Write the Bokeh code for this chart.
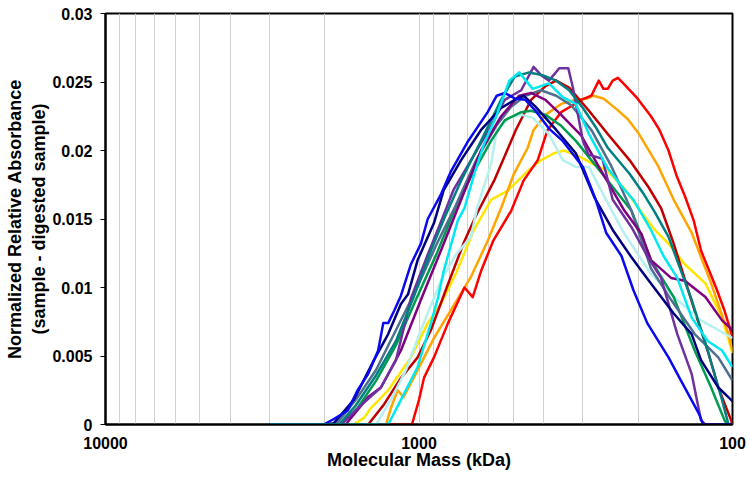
from bokeh.plotting import figure
from bokeh.models import Range1d, FixedTicker, CustomJSTickFormatter
from bokeh.embed import file_html
from bokeh.resources import INLINE

# ---------------- data (mass in kDa, normalized absorbance) ----------------
red_mass = [3000, 1053, 1000, 964, 896, 808, 716, 674, 634, 580, 508, 464, 418, 389, 352, 323, 304, 282,
            267, 258, 250, 241, 232, 221, 201, 182, 171, 160, 151, 142, 133, 126, 120, 112, 106, 100]
red_abs = [0, 0, 0.0018, 0.0034, 0.0049, 0.0074, 0.0100, 0.0093, 0.0112, 0.0134, 0.0156, 0.0178, 0.0193,
           0.0215, 0.0228, 0.0233, 0.0237, 0.0240, 0.0251, 0.0245, 0.0245, 0.0251, 0.0253, 0.0248, 0.0238,
           0.0225, 0.0215, 0.0200, 0.0182, 0.0167, 0.0149, 0.0127, 0.0115, 0.0098, 0.0083, 0.0064]

orange_mass = [3000, 1274, 1229, 1170, 1120, 1040, 896, 808, 682, 604, 547, 498, 450, 431, 395, 352, 316,
               290, 278, 258, 234, 216, 200, 186, 173, 154, 135, 117, 103, 100]
orange_abs = [0, 0, 0.0012, 0.0025, 0.0020, 0.0034, 0.0063, 0.0080, 0.0108, 0.0134, 0.0158, 0.0183, 0.0202,
              0.0215, 0.0226, 0.0234, 0.0237, 0.0238, 0.0240, 0.0238, 0.0230, 0.0223, 0.0213, 0.0201, 0.0189,
              0.0164, 0.0140, 0.0103, 0.0066, 0.0054]

yellow_mass = [3000, 1614, 1495, 1424, 1254, 1061, 938, 851, 763, 668, 589, 519, 450, 408, 371, 345, 304,
               278, 250, 221, 195, 177, 160, 142, 122, 108, 100]
yellow_abs = [0, 0, 0.0005, 0.0012, 0.0025, 0.0049, 0.0074, 0.0088, 0.0110, 0.0142, 0.0164, 0.0171, 0.0185,
              0.0193, 0.0198, 0.0200, 0.0195, 0.0190, 0.0185, 0.0172, 0.0155, 0.0142, 0.0132, 0.0117, 0.0103,
              0.0078, 0.0052]

darkred_mass = [3000, 1452, 1290, 1142, 1010, 916, 822, 716, 653, 576, 519, 491, 439, 395, 365, 332, 287,
                250, 213, 185, 169, 154, 132, 120, 111, 101, 100]
darkred_abs = [0, 0, 0.0015, 0.0034, 0.0049, 0.0069, 0.0098, 0.0134, 0.0154, 0.0178, 0.0202, 0.0215, 0.0237,
               0.0247, 0.0251, 0.0246, 0.0229, 0.0212, 0.0193, 0.0173, 0.0158, 0.0132, 0.0083, 0.0054, 0.0027,
               0.0003, 0]

blue_mass = [3000, 2012, 1870, 1690, 1570, 1452, 1350, 1300, 1254, 1200, 1142, 1061, 986, 938, 851, 790,
             701, 604, 565, 533, 495, 458, 425, 385, 348, 300, 273, 253, 226, 207, 187, 160, 146, 128, 124, 100]
blue_abs = [0, 0, 0.0004, 0.0010, 0.0025, 0.0037, 0.0054, 0.0074, 0.0074, 0.0083, 0.0094, 0.0117, 0.0132,
            0.0150, 0.0168, 0.0185, 0.0206, 0.0228, 0.0240, 0.0242, 0.0238, 0.0237, 0.0229, 0.0216, 0.0207,
            0.0188, 0.0164, 0.0140, 0.0123, 0.0098, 0.0074, 0.0049, 0.0032, 0.0008, 0, 0]

navy_mass = [3000, 1980, 1869, 1614, 1392, 1254, 1142, 1084, 1010, 896, 834, 734, 634, 547, 495, 464, 425,
             365, 316, 276, 241, 210, 195, 182, 154, 135, 126, 111, 100]
navy_abs = [0, 0, 0.0001, 0.0018, 0.0047, 0.0066, 0.0088, 0.0095, 0.0120, 0.0147, 0.0171, 0.0193, 0.0215,
            0.0231, 0.0237, 0.0240, 0.0232, 0.0215, 0.0198, 0.0166, 0.0142, 0.0122, 0.0112, 0.0103, 0.0081,
            0.0066, 0.0047, 0.0027, 0.0017]

purple_mass = [3000, 1775, 1532, 1323, 1184, 1061, 938, 834, 777, 682, 589, 533, 472, 431, 408, 385, 357,
               334, 323, 310, 300, 288, 260, 241, 210, 186, 169, 150, 135, 126, 122, 100]
purple_abs = [0, 0, 0.0014, 0.0027, 0.0047, 0.0092, 0.0124, 0.0153, 0.0171, 0.0193, 0.0218, 0.0237, 0.0244,
              0.0261, 0.0255, 0.0251, 0.0260, 0.0260, 0.0246, 0.0224, 0.0207, 0.0197, 0.0194, 0.0164, 0.0144,
              0.0122, 0.0107, 0.0066, 0.0037, 0.0003, 0, 0]

plum_mass = [3000, 1715, 1452, 1323, 1142, 986, 851, 734, 634, 547, 479, 439, 395, 352, 304, 262, 221, 195,
             182, 157, 142, 122, 108, 100]
plum_abs = [0, 0, 0.0020, 0.0027, 0.0054, 0.0091, 0.0127, 0.0164, 0.0200, 0.0225, 0.0240, 0.0242, 0.0237,
            0.0226, 0.0211, 0.0185, 0.0156, 0.0139, 0.0120, 0.0107, 0.0105, 0.0093, 0.0076, 0.0069]

teal_mass = [3000, 1800, 1590, 1370, 1184, 1040, 916, 822, 734, 634, 547, 495, 445, 404, 365, 332, 300, 273,
             250, 213, 193, 177, 160, 135, 120, 108, 103, 100]
teal_abs = [0, 0, 0.0014, 0.0036, 0.0061, 0.0093, 0.0127, 0.0153, 0.0178, 0.0207, 0.0237, 0.0254, 0.0257,
            0.0255, 0.0251, 0.0244, 0.0231, 0.0217, 0.0202, 0.0183, 0.0169, 0.0155, 0.0137, 0.0091, 0.0054,
            0.0018, 0, 0]

green_mass = [3000, 1775, 1570, 1370, 1184, 1023, 881, 763, 682, 589, 533, 472, 439, 395, 352, 316, 282, 244,
              210, 182, 154, 132, 117, 106, 104, 100]
green_abs = [0, 0, 0.0012, 0.0032, 0.0058, 0.0091, 0.0124, 0.0159, 0.0181, 0.0207, 0.0222, 0.0228, 0.0229,
             0.0226, 0.0218, 0.0207, 0.0193, 0.0175, 0.0156, 0.0120, 0.0093, 0.0054, 0.0027, 0.0003, 0, 0]

slate_mass = [3000, 1840, 1590, 1370, 1184, 1023, 881, 763, 657, 567, 508, 458, 408, 365, 327, 282, 244, 210,
              182, 157, 132, 111, 100]
slate_abs = [0, 0, 0.0018, 0.0040, 0.0069, 0.0098, 0.0131, 0.0160, 0.0193, 0.0218, 0.0232, 0.0240, 0.0244,
             0.0240, 0.0233, 0.0215, 0.0189, 0.0156, 0.0114, 0.0091, 0.0066, 0.0049, 0.0032]

lightcyan_mass = [3000, 1370, 1229, 1100, 986, 851, 763, 682, 653, 589, 565, 515, 472, 434, 385, 348, 316,
                  287, 253, 221, 182, 150, 126, 111, 100]
lightcyan_abs = [0, 0, 0.0018, 0.0040, 0.0069, 0.0105, 0.0124, 0.0137, 0.0158, 0.0190, 0.0215, 0.0224,
                 0.0226, 0.0224, 0.0212, 0.0193, 0.0188, 0.0188, 0.0164, 0.0139, 0.0110, 0.0091, 0.0076,
                 0.0069, 0.0063]

cyan_mass = [3000, 1254, 1142, 1010, 916, 871, 834, 752, 716, 668, 620, 567, 515, 479, 434, 385, 348, 316,
             287, 250, 224, 207, 182, 166, 150, 135, 120, 108, 100]
cyan_abs = [0, 0, 0.0018, 0.0042, 0.0074, 0.0092, 0.0112, 0.0149, 0.0158, 0.0182, 0.0205, 0.0225, 0.0251,
            0.0257, 0.0245, 0.0249, 0.0239, 0.0234, 0.0212, 0.0187, 0.0173, 0.0164, 0.0142, 0.0123, 0.0107,
            0.0078, 0.0061, 0.0054, 0.0042]

x_major_ticks = [100, 1000, 10000]
x_grid_ticks = [200, 300, 400, 500, 600, 700, 800, 900, 1000,
                2000, 3000, 4000, 5000, 6000, 7000, 8000, 9000]
y_ticks = [0, 0.005, 0.01, 0.015, 0.02, 0.025, 0.03]

series = [
    (yellow_mass, yellow_abs, "#FFE600"),
    (orange_mass, orange_abs, "#FFA500"),
    (red_mass, red_abs, "#FF0000"),
    (darkred_mass, darkred_abs, "#C00000"),
    (lightcyan_mass, lightcyan_abs, "#B4F0F0"),
    (green_mass, green_abs, "#009A50"),
    (slate_mass, slate_abs, "#4F6F8F"),
    (plum_mass, plum_abs, "#800080"),
    (purple_mass, purple_abs, "#7030A0"),
    (teal_mass, teal_abs, "#008080"),
    (navy_mass, navy_abs, "#000080"),
    (blue_mass, blue_abs, "#0A0AF0"),
    (cyan_mass, cyan_abs, "#00E8F0"),
]

FONT = "Liberation Sans"

p = figure(width=750, height=479, x_axis_type="log", output_backend="svg", toolbar_location=None,
           x_range=Range1d(10000, 100), y_range=Range1d(0, 0.03),
           min_border_left=105, min_border_right=18, min_border_top=13, min_border_bottom=55)
p.background_fill_color = "white"
p.border_fill_color = "white"
p.outline_line_color = "black"
p.outline_line_width = 2

for m, a, c in series:
    p.line(m, a, line_color=c, line_width=2.5, line_join="round")

# grid
p.xgrid.ticker = FixedTicker(ticks=x_grid_ticks)
p.xgrid.grid_line_color = "#d0d0d0"
p.xgrid.grid_line_width = 1
p.ygrid.grid_line_color = None

# x axis
xa = p.xaxis[0]
xa.ticker = FixedTicker(ticks=x_major_ticks, minor_ticks=[])
xa.formatter = CustomJSTickFormatter(code="return String(Math.round(tick));")
xa.major_tick_out = 0
xa.major_tick_in = 0
xa.minor_tick_out = 0
xa.minor_tick_in = 0
xa.axis_line_color = "black"
xa.axis_line_width = 2
xa.major_label_text_font = FONT
xa.major_label_text_font_style = "bold"
xa.major_label_text_font_size = "16px"
xa.major_label_text_color = "black"
xa.major_label_standoff = 12
xa.axis_label = "Molecular Mass (kDa)"
xa.axis_label_text_font = FONT
xa.axis_label_text_font_style = "bold"
xa.axis_label_text_font_size = "18px"
xa.axis_label_text_color = "black"
xa.axis_label_standoff = -2

# y axis
ya = p.yaxis[0]
ya.ticker = FixedTicker(ticks=y_ticks, minor_ticks=[])
ya.formatter = CustomJSTickFormatter(code="return tick.toFixed(3).replace(/\\.?0+$/, '');")
ya.major_tick_out = 5
ya.major_tick_in = 0
ya.minor_tick_out = 0
ya.minor_tick_in = 0
ya.major_tick_line_color = "black"
ya.major_tick_line_width = 1
ya.axis_line_color = "black"
ya.axis_line_width = 2
ya.major_label_text_font = FONT
ya.major_label_text_font_style = "bold"
ya.major_label_text_font_size = "16px"
ya.major_label_text_color = "black"
ya.major_label_standoff = 8
ya.axis_label = "Normalized Relative Absorbance\n(sample - digested sample)"
ya.axis_label_text_font = FONT
ya.axis_label_text_font_style = "bold"
ya.axis_label_text_font_size = "18px"
ya.axis_label_text_color = "black"
ya.axis_label_standoff = 0

open("out.html", "w").write(file_html(p, INLINE))
